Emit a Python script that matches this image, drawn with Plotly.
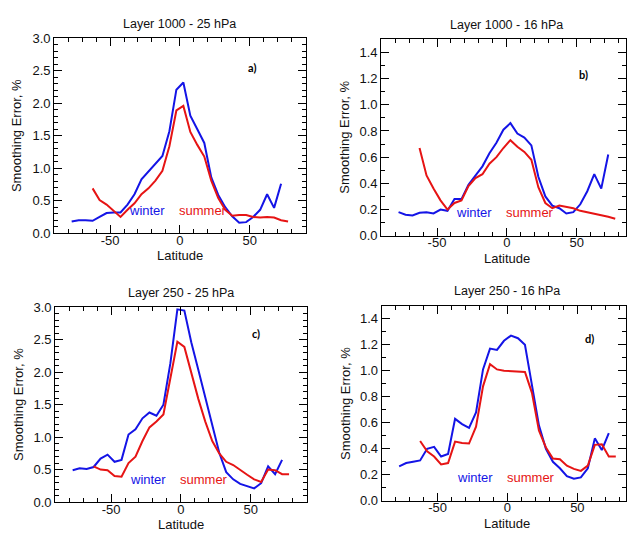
import plotly.graph_objects as go

lat = [-77.5 + 5 * i for i in range(32)]  # -77.5 ... 77.5

# Panel a: Layer 1000 - 25 hPa
a_winter_lat = lat[:31]
a_winter = [0.18, 0.20, 0.20, 0.19, 0.25, 0.31, 0.32, 0.32, 0.44, 0.60, 0.83, 0.95, 1.07, 1.19, 1.57, 2.21,
            2.32, 1.81, 1.60, 1.39, 0.86, 0.59, 0.40, 0.26, 0.16, 0.17, 0.25, 0.36, 0.60, 0.39, 0.76]
a_summer_lat = lat[3:]
a_summer = [0.69, 0.51, 0.44, 0.34, 0.25, 0.36, 0.46, 0.60, 0.69, 0.81, 0.96, 1.34, 1.89,
            1.96, 1.56, 1.36, 1.18, 0.81, 0.54, 0.36, 0.27, 0.28, 0.28, 0.25, 0.24, 0.25, 0.24, 0.20, 0.18]

# Panel b: Layer 1000 - 16 hPa
b_winter_lat = lat[:31]
b_winter = [0.18, 0.16, 0.155, 0.175, 0.18, 0.17, 0.20, 0.19, 0.28, 0.28, 0.39, 0.46, 0.53, 0.63, 0.71, 0.81,
            0.86, 0.78, 0.75, 0.69, 0.45, 0.30, 0.23, 0.21, 0.17, 0.18, 0.24, 0.34, 0.47, 0.36, 0.62]
b_summer_lat = lat[3:]
b_summer = [0.67, 0.46, 0.36, 0.27, 0.20, 0.25, 0.27, 0.38, 0.44, 0.47, 0.55, 0.60, 0.67,
            0.73, 0.68, 0.64, 0.58, 0.37, 0.25, 0.21, 0.23, 0.22, 0.21, 0.19, 0.18, 0.17, 0.16, 0.145, 0.13]

# Panel c: Layer 250 - 25 hPa
c_winter_lat = lat[:31]
c_winter = [0.49, 0.52, 0.51, 0.54, 0.67, 0.73, 0.62, 0.65, 1.04, 1.12, 1.29, 1.38, 1.33, 1.50, 2.14, 2.97,
            2.95, 2.46, 2.04, 1.61, 1.19, 0.76, 0.46, 0.35, 0.28, 0.24, 0.21, 0.29, 0.55, 0.43, 0.65]
c_summer_lat = lat[3:]
c_summer = [0.55, 0.50, 0.49, 0.40, 0.39, 0.60, 0.70, 0.94, 1.15, 1.24, 1.35, 1.91, 2.47,
            2.39, 1.99, 1.59, 1.24, 0.94, 0.75, 0.62, 0.57, 0.49, 0.42, 0.35, 0.31, 0.50, 0.49, 0.43, 0.43]

# Panel d: Layer 250 - 16 hPa
d_winter_lat = lat[:31]
d_winter = [0.265, 0.29, 0.30, 0.31, 0.40, 0.415, 0.34, 0.36, 0.63, 0.59, 0.56, 0.68, 1.01, 1.17, 1.16, 1.23,
            1.27, 1.25, 1.20, 0.88, 0.58, 0.40, 0.30, 0.25, 0.19, 0.17, 0.18, 0.25, 0.48, 0.39, 0.52]
d_summer_lat = lat[3:]
d_summer = [0.46, 0.38, 0.34, 0.28, 0.29, 0.455, 0.445, 0.44, 0.57, 0.88, 1.05, 1.01, 1.00,
            0.995, 0.99, 0.99, 0.83, 0.54, 0.41, 0.325, 0.32, 0.27, 0.245, 0.23, 0.27, 0.43, 0.435, 0.34, 0.34]

titles = ["Layer 1000 - 25 hPa", "Layer 1000 - 16 hPa", "Layer 250 - 25 hPa", "Layer 250 - 16 hPa"]
labels = ["a)", "b)", "c)", "d)"]

W, H = 627, 536
BLUE = "#1414e6"
RED = "#e61414"
FONT = "Liberation Sans, Arial, sans-serif"

# panel geometry in pixels: (left, right, top, bottom, xmax, ymax, ydtick)
panels = [
    (54.3, 306.0, 32.3, 232.7, 90.0, 3.0, 0.5),
    (381.7, 627.0, 33.3, 235.3, 85.2, 1.5, 0.2),
    (55.3, 307.0, 309.0, 509.3, 90.0, 3.0, 0.5),
    (382.3, 627.0, 307.3, 508.0, 84.8, 1.5, 0.2),
]
series = [
    (a_winter_lat, a_winter, a_summer_lat, a_summer),
    (b_winter_lat, b_winter, b_summer_lat, b_summer),
    (c_winter_lat, c_winter, c_summer_lat, c_summer),
    (d_winter_lat, d_winter, d_summer_lat, d_summer),
]
label_pos = [(52, 2.55), (55, 1.23), (53.5, 2.6), (58.5, 1.25)]
wlab_y = [0.35, 0.18, 0.35, 0.18]

fig = go.Figure()
layout = dict(width=W, height=H, margin=dict(l=0, r=0, t=0, b=0), autosize=False,
              paper_bgcolor="white", plot_bgcolor="white", showlegend=False)
annotations = []

for i, ((l, r, t, b, xmax, ymax, ydt), (wl, wv, sl, sv)) in enumerate(zip(panels, series)):
    n = "" if i == 0 else str(i + 1)
    xa, ya = "x" + n, "y" + n
    fig.add_trace(go.Scatter(x=wl, y=wv, mode="lines", line=dict(color=BLUE, width=2),
                             xaxis=xa, yaxis=ya))
    fig.add_trace(go.Scatter(x=sl, y=sv, mode="lines", line=dict(color=RED, width=2),
                             xaxis=xa, yaxis=ya))
    common = dict(showline=True, linecolor="black", linewidth=1, mirror="ticks",
                  ticks="inside", ticklen=8, tickwidth=1, tickcolor="black",
                  showgrid=False, zeroline=False,
                  tickfont=dict(family=FONT, size=13, color="#111"))
    layout["xaxis" + n] = dict(common, domain=[l / W, r / W], range=[-90, xmax], anchor=ya,
                               tickvals=[-50, 0, 50], ticktext=["-50", "0", "50"],
                               ticklabelstandoff=-5,
                               minor=dict(dtick=10, tick0=0, ticks="inside", ticklen=4,
                                          tickcolor="black", showgrid=False))
    layout["yaxis" + n] = dict(common, domain=[1 - b / H, 1 - t / H], range=[0, ymax], anchor=xa,
                               dtick=ydt, tick0=0, tickformat=".1f",
                               minor=dict(dtick=0.1, tick0=0, ticks="inside", ticklen=4,
                                          tickcolor="black", showgrid=False))
    # title above panel, centred on latitude 0
    annotations.append(dict(text=titles[i], xref=xa, x=0, yref="paper", y=1 - (t - 15) / H,
                            showarrow=False, xanchor="center", yanchor="middle",
                            font=dict(family=FONT, size=12.5, color="#111")))
    # x-axis title
    annotations.append(dict(text="Latitude", xref=xa, x=0, yref="paper", y=1 - (b + 23) / H,
                            showarrow=False, xanchor="center", yanchor="middle",
                            font=dict(family=FONT, size=13, color="#111")))
    # y-axis title
    annotations.append(dict(text="Smoothing Error, %", xref="paper", x=(l - 37) / W,
                            yref="paper", y=1 - (t + b) / 2 / H, textangle=-90,
                            showarrow=False, xanchor="center", yanchor="middle",
                            font=dict(family=FONT, size=13, color="#111")))
    # panel label
    lx, ly = label_pos[i]
    annotations.append(dict(text="<b>" + labels[i] + "</b>", xref=xa, x=lx, yref=ya, y=ly,
                            showarrow=False, xanchor="center", yanchor="middle",
                            font=dict(family="Lato, Open Sans, sans-serif", size=11, color="black")))
    # season labels
    annotations.append(dict(text="winter", xref=xa, x=-23.5, yref=ya, y=wlab_y[i],
                            showarrow=False, xanchor="center", yanchor="middle",
                            font=dict(family=FONT, size=13, color=BLUE)))
    annotations.append(dict(text="summer", xref=xa, x=16.5, yref=ya, y=wlab_y[i],
                            showarrow=False, xanchor="center", yanchor="middle",
                            font=dict(family=FONT, size=13, color=RED)))

layout["annotations"] = annotations
fig.update_layout(**layout)
fig.write_html("out.html")
